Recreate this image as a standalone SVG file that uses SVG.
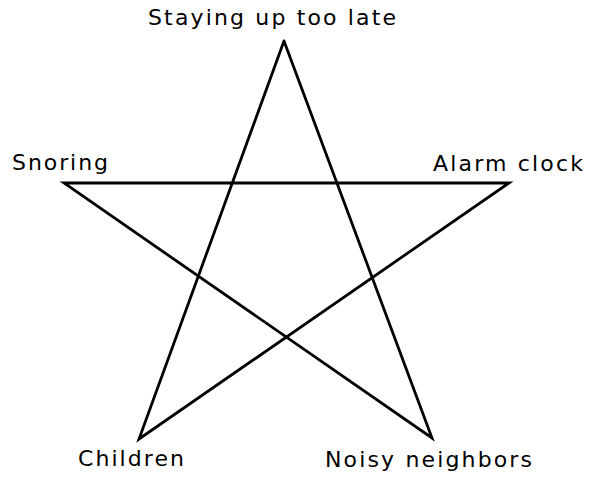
<svg xmlns="http://www.w3.org/2000/svg" width="598" height="479" viewBox="0 0 598 479">
<style>
.lbl{font-family:"DejaVu Sans","Liberation Sans",sans-serif;font-size:22px;fill:#000}
.edge{stroke:#000;stroke-width:2.8;fill:none;stroke-linejoin:miter;stroke-linecap:round}
</style>
<rect width="598" height="479" fill="#fff"/>
<g id="connectors">
<polyline class="edge" points="284,41 432,438 64,183 509,183 139,439 284,41"/>
</g>
<g id="n-staying"><text class="lbl" x="148" y="25" textLength="248" lengthAdjust="spacing">Staying up too late</text></g>
<g id="n-snoring"><text class="lbl" x="12" y="170" textLength="96" lengthAdjust="spacing">Snoring</text></g>
<g id="n-alarm"><text class="lbl" x="433" y="171" textLength="150" lengthAdjust="spacing">Alarm clock</text></g>
<g id="n-children"><text class="lbl" x="78" y="466" textLength="106" lengthAdjust="spacing">Children</text></g>
<g id="n-noisy"><text class="lbl" x="325" y="467" textLength="207" lengthAdjust="spacing">Noisy neighbors</text></g>
</svg>
